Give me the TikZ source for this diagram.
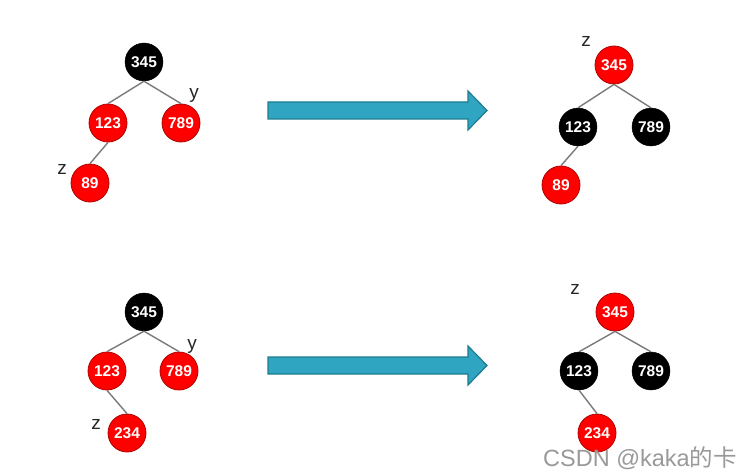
\documentclass[tikz,border=0pt]{standalone}
\usepackage{fontspec}
\setmainfont{Liberation Sans}
\newfontfamily\cjkfont{Noto Sans CJK SC}
\definecolor{teal1}{HTML}{2FA5C1}
\definecolor{teal2}{HTML}{1F7C90}
\definecolor{edgegray}{HTML}{7A7A7A}
\definecolor{rb}{HTML}{B00000}
\begin{document}
\begin{tikzpicture}[x=1pt,y=-1pt,
  rbnode/.style={circle,minimum size=38pt,inner sep=0pt,font=\fontsize{15.5}{15.5}\selectfont\bfseries,text=white},
  rednode/.style={rbnode,fill=red,draw=rb,line width=0.8pt},
  blacknode/.style={rbnode,fill=black,draw=black},
  edge/.style={draw=edgegray,line width=1.4pt},
  lbl/.style={font=\fontsize{19}{19}\selectfont,text=black!85,inner sep=0pt},
  bigarrow/.style={fill=teal1,draw=teal2,line width=1.2pt,line join=miter}]
\useasboundingbox (0,0) rectangle (752,476);
% top left
\node[blacknode] (a1) at (144,62) {345};
\node[rednode] (a2) at (108,123) {123};
\node[rednode] (a3) at (181,123) {789};
\node[rednode] (a4) at (90,183) {89};
\draw[edge] (a1.south) -- (a2.north); \draw[edge] (a1.south) -- (a3.north); \draw[edge] (a2.south) -- (a4.north);
\node[lbl] (az) at (62,169) {z};
\node[lbl] (ay) at (194,95) {y};
% top arrow
\draw[bigarrow] (268,102) -- (468,102) -- (468,91) -- (487,110.5) -- (468,130) -- (468,119) -- (268,119) -- cycle;
% top right
\node[rednode] (b1) at (614,65) {345};
\node[blacknode] (b2) at (578,127) {123};
\node[blacknode] (b3) at (651,127) {789};
\node[rednode] (b4) at (561,185) {89};
\draw[edge] (b1.south) -- (b2.north); \draw[edge] (b1.south) -- (b3.north); \draw[edge] (b2.south) -- (b4.north);
\node[lbl] (bz) at (586,41) {z};
% bottom left
\node[blacknode] (c1) at (144,312) {345};
\node[rednode] (c2) at (107,371) {123};
\node[rednode] (c3) at (179,371) {789};
\node[rednode] (c4) at (127,433) {234};
\draw[edge] (c1.south) -- (c2.north); \draw[edge] (c1.south) -- (c3.north); \draw[edge] (c2.south) -- (c4.north);
\node[lbl] (cz) at (96,424) {z};
\node[lbl] (cy) at (192,346) {y};
% bottom arrow
\draw[bigarrow] (268,357) -- (468,357) -- (468,346) -- (487,365.5) -- (468,385) -- (468,374) -- (268,374) -- cycle;
% bottom right
\node[rednode] (d1) at (615,312) {345};
\node[blacknode] (d2) at (579,371) {123};
\node[blacknode] (d3) at (651,371) {789};
\node[rednode] (d4) at (597,433) {234};
\draw[edge] (d1.south) -- (d2.north); \draw[edge] (d1.south) -- (d3.north); \draw[edge] (d2.south) -- (d4.north);
\node[lbl] (dz) at (575,289) {z};
% watermark
\node[font=\fontsize{23.5}{23.5}\selectfont,text=black!40,anchor=east,inner sep=0pt] (wm) at (737,458) {CSDN @kaka{\cjkfont 的卡}};
\end{tikzpicture}
\end{document}
